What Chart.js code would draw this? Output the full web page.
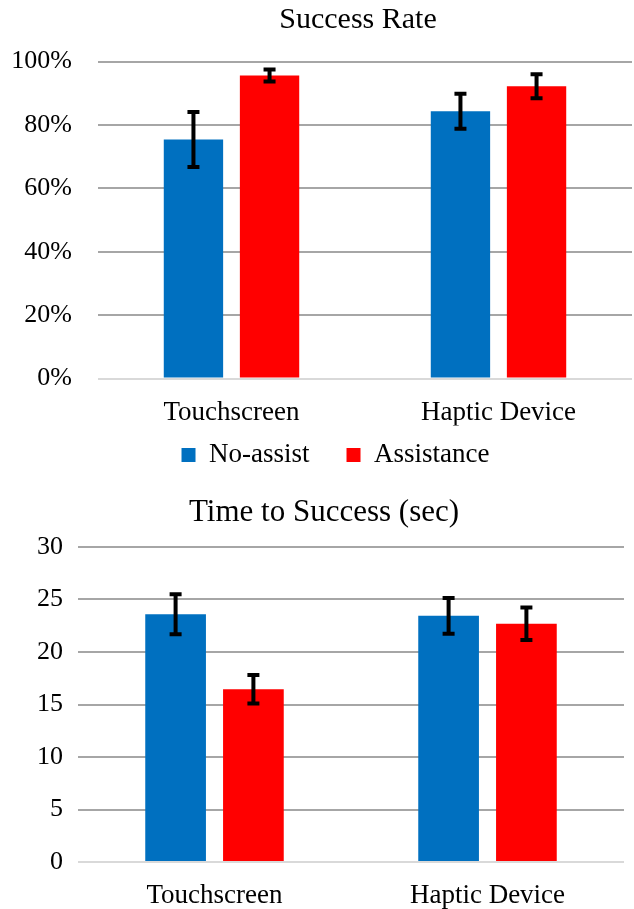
<!DOCTYPE html>
<html>
<head>
<meta charset="utf-8">
<script src="https://cdn.jsdelivr.net/npm/chart.js@4/dist/chart.umd.min.js"></script>
<style>
  body { margin: 0; background: #fff; }
  canvas { display: block; }
</style>
</head>
<body>
<canvas id="rateChart" width="634" height="475"></canvas>
<canvas id="timeChart" width="634" height="434"></canvas>
<script>
// data
var categories = ['Touchscreen', 'Haptic Device'];
var seriesNames = ['No-assist', 'Assistance'];

var rateNoAssist = [75.4, 84.3];
var rateNoAssistErr = [8.7, 5.5];
var rateAssist = [95.6, 92.2];
var rateAssistErr = [1.9, 3.8];
var rateTicks = [0, 20, 40, 60, 80, 100];

var timeNoAssist = [23.6, 23.45];
var timeNoAssistErr = [1.9, 1.7];
var timeAssist = [16.45, 22.7];
var timeAssistErr = [1.35, 1.55];
var timeTicks = [0, 5, 10, 15, 20, 25, 30];

var blue = '#0070C0';
var red = '#FF0000';

Chart.defaults.font.family = "'Liberation Serif', 'Times New Roman', serif";
Chart.defaults.color = '#000';
Chart.defaults.animation = false;

// draws the black error whiskers from each dataset's errors array
var errorBars = {
    id: 'errorBars',
    afterDatasetsDraw: function(chart) {
        var ctx = chart.ctx;
        var y = chart.scales.y;
        chart.data.datasets.forEach(function(ds, i) {
            var meta = chart.getDatasetMeta(i);
            meta.data.forEach(function(bar, j) {
                var top = y.getPixelForValue(ds.data[j] + ds.errors[j]);
                var bot = y.getPixelForValue(ds.data[j] - ds.errors[j]);
                ctx.save();
                ctx.strokeStyle = '#000';
                ctx.lineWidth = 4;
                ctx.beginPath();
                ctx.moveTo(bar.x, top); ctx.lineTo(bar.x, bot);
                ctx.moveTo(bar.x - 6, top); ctx.lineTo(bar.x + 6, top);
                ctx.moveTo(bar.x - 6, bot); ctx.lineTo(bar.x + 6, bot);
                ctx.stroke();
                ctx.restore();
            });
        });
    }
};

// nudges title / legend boxes after layout so they sit where Excel put them
var placeBoxes = {
    id: 'placeBoxes',
    afterLayout: function(chart, args, o) {
        var t = chart.titleBlock, l = chart.legend, d;
        if (t && o.titleCenter) {
            d = o.titleCenter - (t.left + t.right) / 2;
            t.left += d; t.right += d;
        }
        if (l && o.legendCenter) {
            d = o.legendCenter - (l.left + l.right) / 2;
            l.left += d; l.right += d;
        }
        if (l && o.legendTop) {
            l.top = o.legendTop;
            l.bottom = chart.height;
            l.height = l.bottom - l.top;
        }
    }
};

function gridColor(c) {
    return c.tick && c.tick.value === 0 ? '#d9d9d9' : '#a6a6a6';
}

function makeDatasets(a, aErr, b, bErr) {
    return [{
        label: seriesNames[0],
        data: a,
        errors: aErr,
        backgroundColor: blue,
        categoryPercentage: 0.57,
        barPercentage: 0.78
    }, {
        label: seriesNames[1],
        data: b,
        errors: bErr,
        backgroundColor: red,
        categoryPercentage: 0.57,
        barPercentage: 0.78
    }];
}

new Chart(document.getElementById('rateChart').getContext('2d'), {
    type: 'bar',
    data: {
        labels: categories,
        datasets: makeDatasets(rateNoAssist, rateNoAssistErr, rateAssist, rateAssistErr)
    },
    options: {
        responsive: false,
        layout: { padding: { left: 0, right: 2, top: 0, bottom: 0 } },
        plugins: {
            title: {
                display: true,
                text: 'Success Rate',
                font: { size: 30, weight: 'normal' },
                padding: { top: 2, bottom: 23.5 }
            },
            legend: {
                position: 'bottom',
                maxHeight: 49.5,
                labels: { boxWidth: 14, boxHeight: 14, padding: 37, font: { size: 27 } }
            },
            tooltip: { enabled: false },
            placeBoxes: { titleCenter: 358, legendCenter: 335.5, legendTop: 404.5 }
        },
        scales: {
            x: {
                grid: { display: false },
                border: { display: false },
                ticks: { font: { size: 27 }, padding: 10 },
                afterFit: function(s) { s.height = 47; }
            },
            y: {
                min: 0,
                max: 100,
                afterBuildTicks: function(s) { s.ticks = rateTicks.map(function(v) { return { value: v }; }); },
                grid: { color: gridColor, lineWidth: 2, drawTicks: false },
                border: { display: false },
                ticks: {
                    font: { size: 26 },
                    padding: 26,
                    callback: function(v) { return v + '%'; }
                },
                afterFit: function(s) { s.width = 98; }
            }
        }
    },
    plugins: [errorBars, placeBoxes]
});

new Chart(document.getElementById('timeChart').getContext('2d'), {
    type: 'bar',
    data: {
        labels: categories,
        datasets: makeDatasets(timeNoAssist, timeNoAssistErr, timeAssist, timeAssistErr)
    },
    options: {
        responsive: false,
        layout: { padding: { left: 0, right: 10, top: 0, bottom: 0 } },
        plugins: {
            title: {
                display: true,
                text: 'Time to Success (sec)',
                font: { size: 31, weight: 'normal' },
                padding: { top: 19.4, bottom: 15.4 }
            },
            legend: { display: false },
            tooltip: { enabled: false },
            placeBoxes: { titleCenter: 324 }
        },
        scales: {
            x: {
                grid: { display: false },
                border: { display: false },
                ticks: { font: { size: 27 }, padding: 10 },
                afterFit: function(s) { s.height = 47; }
            },
            y: {
                min: 0,
                max: 30,
                afterBuildTicks: function(s) { s.ticks = timeTicks.map(function(v) { return { value: v }; }); },
                grid: { color: gridColor, lineWidth: 2, drawTicks: false },
                border: { display: false },
                ticks: { font: { size: 26 }, padding: 15 },
                afterFit: function(s) { s.width = 78; }
            }
        }
    },
    plugins: [errorBars, placeBoxes]
});
</script>
</body>
</html>
